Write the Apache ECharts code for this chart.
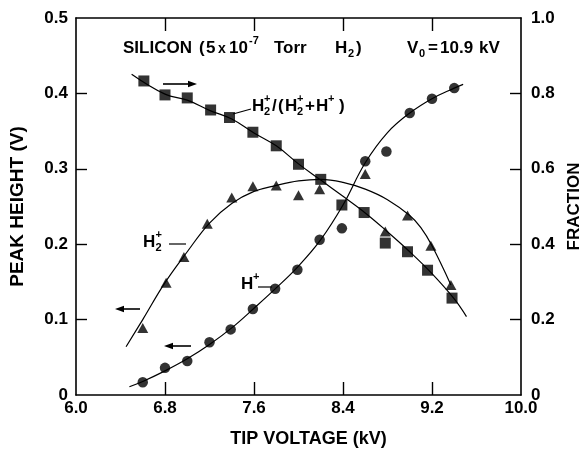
<!DOCTYPE html>
<html>
<head>
<meta charset="utf-8">
<script src="https://cdn.jsdelivr.net/npm/echarts@6/dist/echarts.min.js"></script>
<style>html,body{margin:0;padding:0;background:#fff}#c{width:584px;height:449px}</style>
</head>
<body>
<div id="c"></div>
<script>
// ---- tick labels ----
const xTicks = [6.0, 6.8, 7.6, 8.4, 9.2, 10.0];
const yLeftTicks = [0, 0.1, 0.2, 0.3, 0.4, 0.5];
const yRightTicks = [0, 0.2, 0.4, 0.6, 0.8, 1.0];

// ---- measured points ----
// H2+/(H2+ + H+) fraction (right axis), squares
const ratioV    = [6.61, 6.80, 7.00, 7.21, 7.38, 7.59, 7.80, 8.00, 8.20, 8.39, 8.59, 8.78, 8.98, 9.16, 9.38];
const ratioFrac = [0.833, 0.796, 0.788, 0.756, 0.736, 0.697, 0.661, 0.612, 0.572, 0.504, 0.484, 0.403, 0.380, 0.331, 0.257];
// H+ peak height (left axis), circles
const hPlusV    = [6.60, 6.80, 7.00, 7.20, 7.39, 7.59, 7.79, 7.99, 8.19, 8.39, 8.60, 8.79, 9.00, 9.20, 9.40];
const hPlusPeak = [0.017, 0.036, 0.045, 0.070, 0.087, 0.114, 0.141, 0.166, 0.206, 0.221, 0.310, 0.323, 0.374, 0.393, 0.407];
// H2+ peak height (left axis), triangles
const h2PlusV    = [6.60, 6.81, 6.97, 7.18, 7.40, 7.59, 7.80, 8.00, 8.19, 8.60, 8.78, 8.98, 9.19, 9.37];
const h2PlusPeak = [0.089, 0.149, 0.183, 0.227, 0.262, 0.277, 0.278, 0.265, 0.273, 0.293, 0.217, 0.238, 0.198, 0.146];

// ---- hand-drawn fit curves ----
const ratioFitV    = [6.50, 6.80, 7.00, 7.20, 7.40, 7.60, 7.80, 8.00, 8.20, 8.40, 8.60, 8.80, 9.00, 9.20, 9.40, 9.51];
const ratioFitFrac = [0.851, 0.798, 0.782, 0.755, 0.732, 0.695, 0.661, 0.613, 0.570, 0.527, 0.483, 0.433, 0.380, 0.322, 0.255, 0.208];
const hPlusFitV    = [6.48, 6.60, 6.80, 7.00, 7.20, 7.40, 7.60, 7.80, 8.00, 8.20, 8.40, 8.60, 8.80, 9.00, 9.20, 9.40, 9.48];
const hPlusFitPeak = [0.011, 0.018, 0.032, 0.048, 0.067, 0.089, 0.115, 0.142, 0.171, 0.206, 0.252, 0.308, 0.348, 0.374, 0.393, 0.407, 0.412];
const h2PlusFitV    = [6.45, 6.60, 6.80, 7.00, 7.20, 7.40, 7.60, 7.80, 8.00, 8.20, 8.40, 8.60, 8.80, 9.00, 9.10, 9.20, 9.37];
const h2PlusFitPeak = [0.064, 0.100, 0.149, 0.190, 0.228, 0.254, 0.270, 0.278, 0.284, 0.286, 0.282, 0.273, 0.259, 0.238, 0.222, 0.198, 0.146];

const FONT = '"Liberation Sans", Arial, sans-serif';
const zip = (a, b) => a.map((v, i) => [v, b[i]]);

const chart = echarts.init(document.getElementById('c'), null, {renderer: 'canvas'});

function txt(x, y, t, size) {
  return {type: 'text', x: x, y: y, silent: true,
    style: {text: t, font: 'bold ' + size + 'px ' + FONT, fill: '#000', verticalAlign: 'middle', align: 'left'}};
}
// pieces: [x, text, kind]  kind: 'n' normal, 'sub', 'sup', 'sm' small
function pieces(y, size, list) {
  const s = Math.round(size * 0.62);
  return list.map(p => {
    const k = p[2] || 'n';
    if (k === 'sub') return txt(p[0], y + size * 0.34, p[1], s);
    if (k === 'sup') return txt(p[0], y - size * 0.42, p[1], s);
    if (k === 'sm') return txt(p[0], y + 1, p[1], Math.round(size * 0.8));
    return txt(p[0], y, p[1], size);
  });
}
function hline(x1, y1, x2, y2, w) {
  return {type: 'line', silent: true, shape: {x1: x1, y1: y1, x2: x2, y2: y2}, style: {stroke: '#000', lineWidth: w || 1.2}};
}
function arrow(xTail, xTip, y) {
  const d = xTip > xTail ? -1 : 1;
  return [
    hline(xTail, y, xTip + d * 4, y, 1.6),
    {type: 'polygon', silent: true, shape: {points: [[xTip, y], [xTip + d * 9, y - 3.2], [xTip + d * 9, y + 3.2]]}, style: {fill: '#000'}}
  ];
}

const graphics = [].concat(
  pieces(48, 17, [
    [123, 'SILICON'], [199, '('], [206, '5'], [218, 'x', 'sm'], [229, '10'], [249, '-7', 'sup'],
    [274, 'Torr'], [335, 'H'], [348, '2', 'sub'], [356, ')'],
    [407, 'V'], [419, '0', 'sub'], [428, '='], [440, '10.9'], [479, 'kV']
  ]),
  pieces(106, 17, [
    [252, 'H'], [264, '2', 'sub'], [264, '+', 'sup'], [272, '/'], [278, '('], [285, 'H'], [297, '2', 'sub'], [297, '+', 'sup'],
    [305, '+'], [316, 'H'], [328, '+', 'sup'], [339, ')']
  ]),
  [hline(233, 114, 251, 109)],
  pieces(242, 17, [[143, 'H'], [155.5, '2', 'sub'], [155.5, '+', 'sup']]),
  [hline(169, 244, 186, 244)],
  pieces(284, 17, [[241, 'H'], [253, '+', 'sup']]),
  [hline(258, 287, 272, 287)],
  arrow(163, 197, 84),
  arrow(140, 115, 309),
  arrow(191, 164, 346)
);

const axisLine = {show: true, onZero: false, lineStyle: {color: '#000', width: 1.6}};
const labelStyle = {color: '#000', fontFamily: FONT, fontWeight: 'bold', fontSize: 17};
const nameStyle = {color: '#000', fontFamily: FONT, fontWeight: 'bold', fontSize: 18};

const option = {
  animation: false,
  backgroundColor: '#fff',
  grid: {left: 76, right: 63, top: 18, bottom: 54, containLabel: false, outerBoundsMode: 'none'},
  xAxis: [{
    type: 'value', min: 6, max: 10, position: 'bottom',
    name: 'TIP VOLTAGE (kV)', nameLocation: 'middle', nameGap: 35,
    nameTextStyle: Object.assign({padding: [0, 0, 0, 20]}, nameStyle),
    axisLine: axisLine,
    axisTick: {show: true, inside: true, length: 13, lineStyle: {color: '#000', width: 1.4}, customValues: xTicks.slice(1, -1)},
    axisLabel: Object.assign({margin: 5, customValues: xTicks, formatter: v => v.toFixed(1)}, labelStyle),
    splitLine: {show: false}
  }, {
    type: 'value', min: 6, max: 10, position: 'top',
    axisLine: axisLine,
    axisTick: {show: true, inside: true, length: 13, lineStyle: {color: '#000', width: 1.4}, customValues: xTicks.slice(1, -1)},
    axisLabel: {show: false},
    splitLine: {show: false}
  }],
  yAxis: [{
    type: 'value', min: 0, max: 0.5, interval: 0.1, position: 'left',
    name: 'PEAK HEIGHT (V)', nameLocation: 'middle', nameGap: 49,
    nameTextStyle: Object.assign({}, nameStyle, {fontSize: 19}),
    axisLine: axisLine,
    axisTick: {show: true, inside: true, length: 11, lineStyle: {color: '#000', width: 1.4}, customValues: yLeftTicks.slice(1, -1)},
    axisLabel: Object.assign({margin: 8, customValues: yLeftTicks, formatter: v => v === 0 ? '0' : v.toFixed(1)}, labelStyle),
    splitLine: {show: false}
  }, {
    type: 'value', min: 0, max: 1.0, interval: 0.2, position: 'right',
    name: 'FRACTION', nameLocation: 'middle', nameGap: 43, nameRotate: 90,
    nameTextStyle: Object.assign({}, nameStyle, {fontSize: 17}),
    axisLine: axisLine,
    axisTick: {show: true, inside: true, length: 11, lineStyle: {color: '#000', width: 1.4}, customValues: yRightTicks.slice(1, -1)},
    axisLabel: Object.assign({margin: 10, customValues: yRightTicks, formatter: v => v === 0 ? '0' : v.toFixed(1)}, labelStyle),
    splitLine: {show: false}
  }],
  series: [
    {name: 'ratio fit', type: 'line', yAxisIndex: 1, data: zip(ratioFitV, ratioFitFrac), smooth: 0.4, showSymbol: false, symbol: 'none',
      lineStyle: {color: '#000', width: 1.2}, silent: true},
    {name: 'H+ fit', type: 'line', yAxisIndex: 0, data: zip(hPlusFitV, hPlusFitPeak), smooth: 0.4, showSymbol: false, symbol: 'none',
      lineStyle: {color: '#000', width: 1.2}, silent: true},
    {name: 'H2+ fit', type: 'line', yAxisIndex: 0, data: zip(h2PlusFitV, h2PlusFitPeak), smooth: 0.4, showSymbol: false, symbol: 'none',
      lineStyle: {color: '#000', width: 1.2}, silent: true},
    {name: 'H2+/(H2+ + H+)', type: 'scatter', yAxisIndex: 1, data: zip(ratioV, ratioFrac), symbol: 'rect', symbolSize: 11,
      itemStyle: {color: '#000'}},
    {name: 'H+', type: 'scatter', yAxisIndex: 0, data: zip(hPlusV, hPlusPeak), symbol: 'circle', symbolSize: 10.5,
      itemStyle: {color: '#000'}},
    {name: 'H2+', type: 'scatter', yAxisIndex: 0, data: zip(h2PlusV, h2PlusPeak), symbol: 'triangle', symbolSize: [11, 10],
      itemStyle: {color: '#000'}}
  ],
  graphic: graphics
};
chart.setOption(option);
</script>
</body>
</html>
